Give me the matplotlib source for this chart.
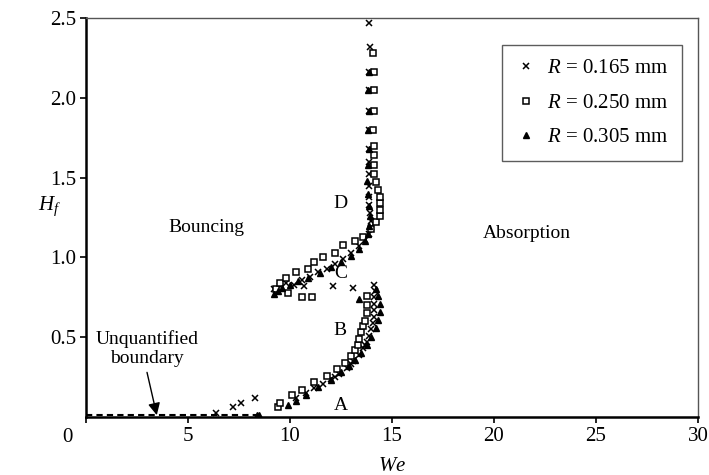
import matplotlib.pyplot as plt
from matplotlib.lines import Line2D

plt.rcParams['font.family'] = ['Liberation Serif', 'DejaVu Serif']
plt.rcParams['mathtext.fontset'] = 'custom'
plt.rcParams['mathtext.rm'] = 'Liberation Serif'
plt.rcParams['mathtext.it'] = 'Liberation Serif:italic'

# R = 0.165 mm (crosses)
we_165 = [6.4, 7.2, 7.6, 8.3,
          10.3, 10.8, 11.2, 11.6, 12.0, 12.2, 12.4, 12.8, 13.0, 13.1, 13.4, 13.6, 13.7,
          13.8, 13.9, 14.0, 14.05, 14.1, 14.1, 14.1, 14.1, 14.15, 14.1,
          10.7, 12.1, 13.1,
          9.2, 9.5, 9.8, 10.2, 10.6, 11.0, 11.4, 11.8, 12.2, 12.6, 13.0, 13.4, 13.7,
          13.9, 14.0, 14.0, 13.95, 13.9, 13.9, 13.9, 13.9, 13.9, 13.9, 13.9, 13.9,
          13.9, 13.9, 13.95, 13.9]
hf_165 = [0.025, 0.06, 0.09, 0.12,
          0.12, 0.15, 0.18, 0.21, 0.24, 0.25, 0.27, 0.31, 0.33, 0.35, 0.39, 0.43, 0.45,
          0.47, 0.51, 0.55, 0.59, 0.63, 0.67, 0.71, 0.75, 0.79, 0.83,
          0.82, 0.82, 0.81,
          0.80, 0.82, 0.84, 0.83, 0.86, 0.88, 0.91, 0.93, 0.96, 0.99, 1.03, 1.07, 1.11,
          1.15, 1.19, 1.23, 1.28, 1.33, 1.38, 1.45, 1.52, 1.60, 1.68, 1.80, 1.92,
          2.05, 2.16, 2.32, 2.47]

# R = 0.250 mm (squares)
we_250 = [9.4, 9.5, 10.1, 10.6, 11.2, 11.8, 12.3, 12.7, 13.0, 13.2, 13.35, 13.4,
          13.5, 13.6, 13.7, 13.8, 13.8, 13.8,
          9.9, 10.6, 11.1,
          9.3, 9.5, 9.8, 10.3, 10.9, 11.2, 11.6, 12.2, 12.6, 13.2, 13.6, 14.0, 14.2,
          14.4, 14.4, 14.4, 14.4, 14.3, 14.2, 14.1, 14.1, 14.1, 14.1, 14.05, 14.1,
          14.1, 14.1, 14.05]
hf_250 = [0.06, 0.09, 0.14, 0.17, 0.22, 0.26, 0.30, 0.34, 0.38, 0.42, 0.45, 0.49,
          0.53, 0.57, 0.60, 0.65, 0.70, 0.76,
          0.78, 0.75, 0.75,
          0.80, 0.84, 0.87, 0.91, 0.93, 0.97, 1.00, 1.03, 1.08, 1.10, 1.13, 1.18, 1.22,
          1.26, 1.30, 1.34, 1.38, 1.42, 1.47, 1.52, 1.58, 1.64, 1.70, 1.80, 1.92,
          2.05, 2.16, 2.28]

# R = 0.305 mm (triangles)
we_305 = [8.4, 8.5, 9.9, 10.3,
          10.8, 11.4, 12.0, 12.5, 12.9, 13.2, 13.5, 13.8, 14.0, 14.2, 14.3, 14.4,
          14.4, 14.3, 14.2,
          13.4,
          9.2, 9.4, 9.6, 10.0, 10.4, 10.9, 11.5, 12.0, 12.5, 13.0, 13.4, 13.7, 13.85,
          13.9, 13.95, 13.9, 13.85, 13.8, 13.85, 13.9, 13.85, 13.9, 13.85, 13.9]
hf_305 = [0.01, 0.015, 0.075, 0.10,
          0.14, 0.19, 0.23, 0.28, 0.32, 0.36, 0.40, 0.45, 0.50, 0.56, 0.61, 0.66,
          0.71, 0.76, 0.80,
          0.74,
          0.77, 0.79, 0.81, 0.83, 0.85, 0.87, 0.90, 0.94, 0.97, 1.01, 1.05, 1.10, 1.15,
          1.20, 1.26, 1.32, 1.40, 1.48, 1.58, 1.68, 1.80, 1.92, 2.05, 2.16]

# unquantified boundary (dashed)
boundary_we = [0, 8.5]
boundary_hf = [0.01, 0.01]

fig = plt.figure(figsize=(7.09, 4.75), dpi=100)
ax = fig.add_axes([0.121, 0.122, 0.8635, 0.84])

ax.plot(boundary_we, boundary_hf, color='black', ls=(0, (3, 2)), lw=1.5, zorder=2)
ax.plot(we_165, hf_165, ls='none', marker='x', ms=4.5, mew=1.1, color='black')
ax.plot(we_250, hf_250, ls='none', marker='s', ms=4.8, mew=1.1, mfc='white', mec='black')
ax.plot(we_305, hf_305, ls='none', marker='^', ms=4.8, color='black')

ax.set_xlim(0, 30)
ax.set_ylim(0, 2.5)
ax.set_xticks([0, 5, 10, 15, 20, 25, 30])
ax.set_xticklabels(['', '5', '10', '15', '20', '25', '30'])
ax.set_yticks([0.5, 1.0, 1.5, 2.0, 2.5])
ax.set_yticklabels(['0.5', '1.0', '1.5', '2.0', '2.5'])
ax.tick_params(direction='out', length=4, width=1.2, labelsize=15, pad=3)
# origin label sits left of the corner
ax.annotate('0', xy=(0, 0), xycoords='axes fraction', xytext=(-13, -8),
            textcoords='offset points', ha='center', va='top', fontsize=15)

for s in ['left', 'bottom']:
    ax.spines[s].set_linewidth(1.8)
for s in ['top', 'right']:
    ax.spines[s].set_linewidth(1.0)
    ax.spines[s].set_color('#555555')

ax.set_xlabel('$We$', fontsize=15, labelpad=8)
ax.set_ylabel('$H_f$', fontsize=15, rotation=0, labelpad=14)
ax.yaxis.set_label_coords(-0.06, 0.5)

ax.text(5.9, 1.19, 'Bouncing', fontsize=14, ha='center', va='center')
ax.text(21.6, 1.15, 'Absorption', fontsize=14, ha='center', va='center')
ax.text(12.5, 1.34, 'D', fontsize=14, ha='center', va='center')
ax.text(12.5, 0.90, 'C', fontsize=14, ha='center', va='center')
ax.text(12.45, 0.54, 'B', fontsize=14, ha='center', va='center')
ax.text(12.5, 0.075, 'A', fontsize=14, ha='center', va='center')
ax.text(3.0, 0.43, 'Unquantified\nboundary', ha='center', va='center',
        fontsize=14, linespacing=1.2)
ax.annotate('', xy=(3.48, 0.012), xytext=(3.0, 0.28),
            arrowprops=dict(arrowstyle='-|>', color='black', lw=1.0,
                            mutation_scale=18, shrinkA=0, shrinkB=0))

handles = [Line2D([], [], ls='none', marker='x', ms=4.5, mew=1.1, color='black'),
           Line2D([], [], ls='none', marker='s', ms=4.5, mew=1.1, mfc='white', mec='black'),
           Line2D([], [], ls='none', marker='^', ms=4.5, color='black')]
labels = ['$R$ = 0.165 mm', '$R$ = 0.250 mm', '$R$ = 0.305 mm']
leg = ax.legend(handles, labels, loc='upper right', bbox_to_anchor=(0.974, 0.932),
                borderaxespad=0, fontsize=15, frameon=True, fancybox=False,
                edgecolor='#333333', handlelength=1.0, handletextpad=0.5,
                labelspacing=0.72, borderpad=0.65)
leg.get_frame().set_linewidth(1.0)

fig.savefig('out.png', dpi=100)
